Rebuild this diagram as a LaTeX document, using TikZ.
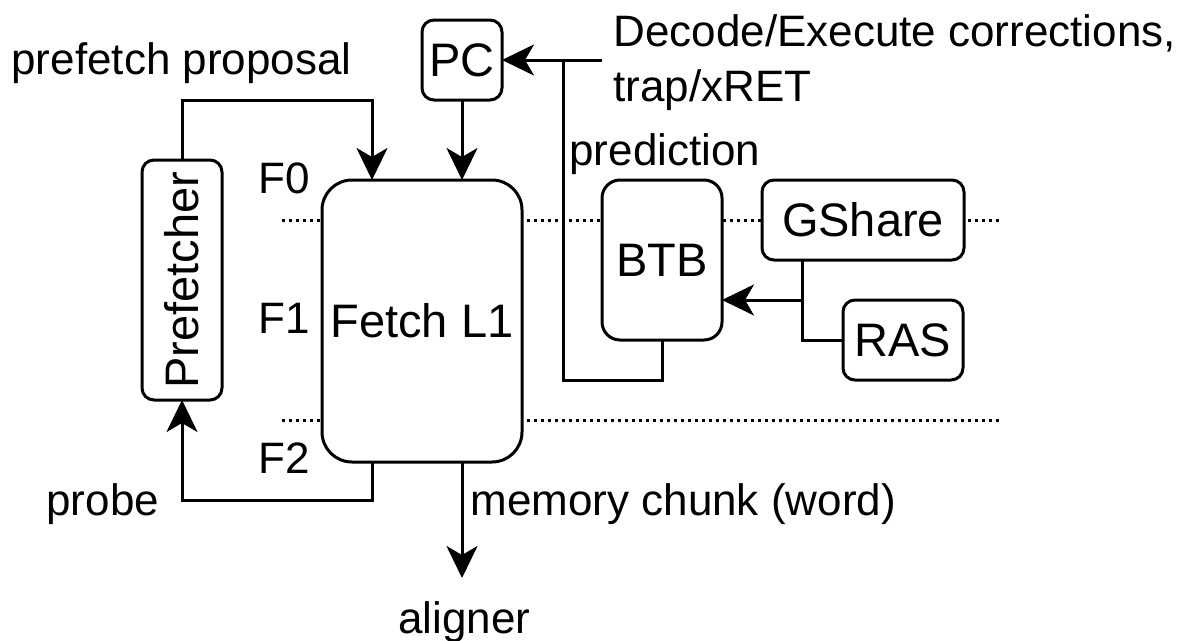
\documentclass[tikz,border=0pt]{standalone}
\usepackage{fontspec}
\setmainfont{Liberation Sans}
\usetikzlibrary{arrows.meta,calc}
\begin{document}
\begin{tikzpicture}[x=1pt,y=-1pt,
  font=\fontsize{44}{55}\selectfont,
  line width=3pt,
  blk/.style={draw,fill=white,rounded corners=#1,inner sep=0pt,outer sep=0pt,font=\fontsize{47}{56}\selectfont},
  blk/.default=12pt,
  arr/.style={-{Stealth[length=32pt,width=31pt,inset=9pt]}},
  dotline/.style={line width=3pt,dash pattern=on 3pt off 4pt},
  lbl/.style={inner sep=0pt,anchor=base west}]
\useasboundingbox (0,0) rectangle (1177,640);

% stage separators (behind the boxes)
\draw[dotline] (282,220) -- (999,220);
\draw[dotline] (282,420) -- (999,420);

% blocks
\node[blk, minimum width=80pt, minimum height=80pt] (pc) at (462,60) {PC};
\node[blk, minimum width=80pt, minimum height=240pt] (pref) at (182,280) {\rotatebox{90}{Prefetcher}};
\node[blk=30pt, minimum width=200pt, minimum height=282pt] (fetch) at (422,321) {Fetch L1};
\node[blk=18pt, minimum width=120pt, minimum height=160pt] (btb) at (662,260) {BTB};
\node[blk, minimum width=202pt, minimum height=80pt] (gshare) at (863,220) {GShare};
\node[blk, minimum width=120pt, minimum height=80pt] (ras) at (903,340) {RAS};

% labels
\node[lbl] (lprop) at (10,74) {prefetch proposal};
\node[inner sep=0pt, anchor=north west, align=left] (ldec) at (612,13) {Decode/Execute corrections,\\trap/xRET};
\node[lbl] (lpred) at (568,165) {prediction};
\node[lbl] (lf0) at (257,193) {F0};
\node[lbl] (lf1) at (257,333) {F1};
\node[lbl] (lf2) at (257,473) {F2};
\node[lbl] (lprobe) at (45,515) {probe};
\node[lbl] (lmem) at (469,515) {memory chunk (word)};
\node[lbl] (lalign) at (397,633) {aligner};

% coordinates
\coordinate (pp) at (372,100);
\coordinate (junc) at (563,60);
\coordinate (corr) at (602,60);
\coordinate (fetchout) at ($(fetch.south)+(40,0)$);
\coordinate (alignend) at (462,578);
\coordinate (probeout) at ($(fetch.south)+(-50,0)$);
\coordinate (gsout) at (802,260);
\coordinate (btbin) at ($(btb.east)+(0,40)$);

% connectors
\draw[arr] (pref.north) |- (pp) -- (pp |- fetch.north);
\draw[arr] (pc.south) -- (pc.south |- fetch.north);
\draw[arr] (btb.south) |- (563,380) -- (junc) -- (pc.east);
\draw (corr) -- (junc);
\draw[arr] (gsout) |- (btbin);
\draw (ras.west) -| (gsout |- btbin);
\draw[arr] (probeout) |- (pref.south |- 0,500) -- (pref.south);
\draw[arr] (fetchout) -- (alignend);
\end{tikzpicture}
\end{document}
